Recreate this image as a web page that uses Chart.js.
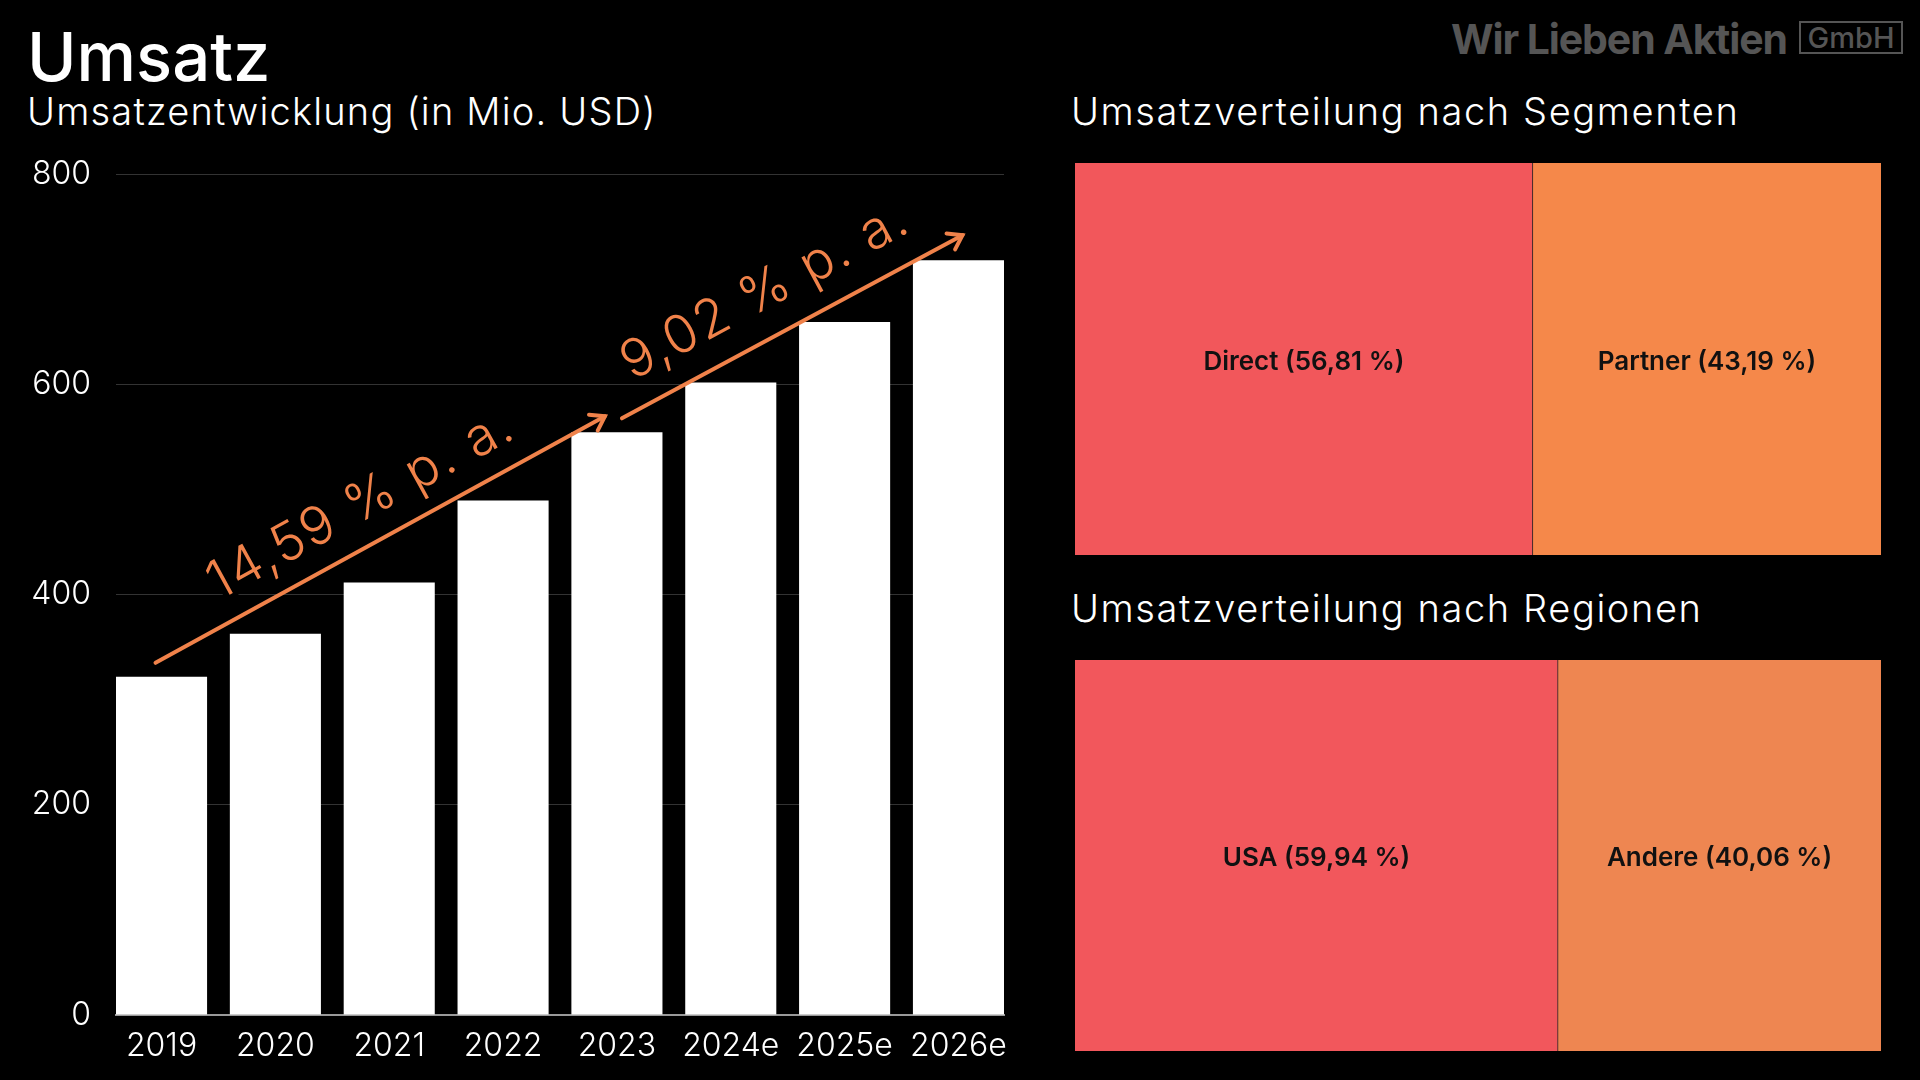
<!DOCTYPE html>
<html lang="de">
<head>
<meta charset="utf-8">
<title>Umsatz</title>
<script src="https://cdn.jsdelivr.net/npm/chart.js@4.4.1/dist/chart.umd.min.js"></script>
<style>
  html, body { margin: 0; padding: 0; background: #000; }
  body { width: 1920px; height: 1080px; position: relative; overflow: hidden; font-family: Inter, "Noto Sans", sans-serif; color: #fff; }
  .abs { position: absolute; white-space: nowrap; line-height: 1; }
  #title { left: 27px; top: 23px; font-size: 67px; font-weight: 500; }
  #subtitle { left: 27px; top: 92px; font-size: 38px; font-weight: 300; letter-spacing: 1.2px; }
  .heading { left: 1071px; font-size: 38px; font-weight: 300; letter-spacing: 1.6px; }
  #logo { left: 1451px; top: 19px; font-size: 41px; font-weight: 700; color: #555; letter-spacing: -1.1px; }
  #gmbh { left: 1799px; top: 21px; width: 100px; height: 29px; border: 2px solid #555; color: #555; font-size: 29px; font-weight: 500; text-align: center; line-height: 29px; }
  canvas { position: absolute; }
</style>
</head>
<body>
<div id="title" class="abs">Umsatz</div>
<div id="subtitle" class="abs">Umsatzentwicklung (in Mio. USD)</div>
<div class="abs heading" style="top: 92px;">Umsatzverteilung nach Segmenten</div>
<div class="abs heading" style="top: 589px;">Umsatzverteilung nach Regionen</div>
<div id="logo" class="abs">Wir Lieben Aktien</div>
<div id="gmbh" class="abs">GmbH</div>

<canvas id="revenue-chart" width="1040" height="1080" style="left: 0; top: 0;"></canvas>
<canvas id="segment-chart" width="806" height="392" style="left: 1075px; top: 163px;"></canvas>
<canvas id="region-chart" width="806" height="391" style="left: 1075px; top: 660px;"></canvas>

<script>
// Umsatz in Mio. USD
const years = ['2019', '2020', '2021', '2022', '2023', '2024e', '2025e', '2026e'];
const revenue = [321.7, 362.7, 411.3, 489.3, 554.3, 601.7, 659.3, 718.0];
const yTicks = [0, 200, 400, 600, 800];

// CAGR arrows: from bar index to bar index
const cagrFrom = [0, 4];
const cagrTo = [4, 7];
const cagrLabels = ['14,59 % p. a.', '9,02 % p. a.'];

const segmentNames = ['Direct', 'Partner'];
const segmentShares = [56.81, 43.19];
const regionNames = ['USA', 'Andere'];
const regionShares = [59.94, 40.06];

const orange = '#F0824A';

Chart.defaults.font.family = 'Inter, "Noto Sans", sans-serif';
Chart.defaults.color = '#fff';

const cagrPlugin = {
    id: 'cagrArrows',
    afterDatasetsDraw(chart) {
        const { ctx, scales: { x, y } } = chart;
        ctx.save();
        cagrFrom.forEach((i0, k) => {
            const i1 = cagrTo[k];
            const x1 = x.getPixelForValue(i0) - 6 + (k > 0 ? 11 : 0);
            const y1 = y.getPixelForValue(revenue[i0]) - 14;
            const x2 = x.getPixelForValue(i1) - 12 + (k > 0 ? 16 : 0);
            const y2 = y.getPixelForValue(revenue[i1]) - (k > 0 ? 25 : 16);
            const ang = Math.atan2(y2 - y1, x2 - x1);

            // label, with black halo so the grid stops behind it
            const off = 40;
            const mx = (x1 + x2) / 2 + off * Math.sin(ang) - (k > 0 ? 8 : 0);
            const my = (y1 + y2) / 2 - off * Math.cos(ang);
            ctx.save();
            ctx.translate(mx, my);
            ctx.rotate(ang);
            ctx.font = '300 53px Inter, "Noto Sans", sans-serif';
            ctx.letterSpacing = '2px';
            ctx.textAlign = 'center';
            ctx.textBaseline = 'middle';
            ctx.lineJoin = 'round';
            ctx.lineWidth = 12;
            ctx.strokeStyle = '#000';
            ctx.strokeText(cagrLabels[k], 0, 0);
            ctx.fillStyle = orange;
            ctx.fillText(cagrLabels[k], 0, 0);
            ctx.restore();

            // arrow
            ctx.strokeStyle = orange;
            ctx.lineWidth = 4;
            ctx.lineCap = 'round';
            ctx.beginPath();
            ctx.moveTo(x1, y1);
            ctx.lineTo(x2, y2);
            ctx.stroke();
            const h = 16;
            ctx.beginPath();
            ctx.moveTo(x2 - h * Math.cos(ang - 0.6), y2 - h * Math.sin(ang - 0.6));
            ctx.lineTo(x2, y2);
            ctx.lineTo(x2 - h * Math.cos(ang + 0.6), y2 - h * Math.sin(ang + 0.6));
            ctx.stroke();
        });
        ctx.restore();
    }
};

new Chart(document.getElementById('revenue-chart'), {
    type: 'bar',
    data: {
        datasets: [{
            data: years.map((_, i) => ({ x: i, y: revenue[i] })),
            backgroundColor: '#fff',
            barPercentage: 0.8,
            categoryPercentage: 1
        }]
    },
    options: {
        responsive: false,
        animation: false,
        layout: { padding: { top: 174, right: 36, left: 0, bottom: 0 } },
        scales: {
            x: {
                type: 'linear',
                offset: false,
                min: -0.4,
                max: 7.4,
                afterBuildTicks: axis => { axis.ticks = years.map((_, i) => ({ value: i })); },
                afterFit: axis => { axis.height = 65; },
                grid: { display: false },
                border: { display: true, color: '#999', width: 2 },
                ticks: {
                    callback: v => years[v],
                    font: { size: 32, weight: 300 },
                    padding: 4,
                    maxRotation: 0,
                    autoSkip: false
                }
            },
            y: {
                min: 0,
                max: 800,
                afterBuildTicks: axis => { axis.ticks = yTicks.map(v => ({ value: v })); },
                afterFit: axis => { axis.width = 116; },
                grid: { color: '#333', lineWidth: 1, drawTicks: false },
                border: { display: false },
                ticks: { font: { size: 32, weight: 300 }, padding: 25 }
            }
        },
        plugins: { legend: { display: false }, tooltip: { enabled: false } }
    },
    plugins: [cagrPlugin]
});

// labels in the middle of each treemap tile
const tileLabels = {
    id: 'tileLabels',
    afterDatasetsDraw(chart) {
        const { ctx } = chart;
        ctx.save();
        ctx.font = '600 26px Inter, "Noto Sans", sans-serif';
        ctx.fillStyle = '#111';
        ctx.textAlign = 'center';
        ctx.textBaseline = 'middle';
        chart.data.datasets.forEach((ds, i) => {
            const bar = chart.getDatasetMeta(i).data[0];
            const share = ds.data[0].toFixed(2).replace('.', ',');
            ctx.fillText(`${ds.label} (${share} %)`, (bar.x + bar.base) / 2, bar.y + 3);
        });
        ctx.restore();
    }
};

function drawTreemap(id, names, shares, colors) {
    new Chart(document.getElementById(id), {
        type: 'bar',
        data: {
            labels: [''],
            datasets: names.map((name, i) => ({
                label: name,
                data: [shares[i]],
                backgroundColor: colors[i],
                borderColor: '#222',
                borderWidth: i === 0 ? { right: 1 } : 0,
                borderSkipped: false,
                barPercentage: 1,
                categoryPercentage: 1
            }))
        },
        options: {
            indexAxis: 'y',
            responsive: false,
            animation: false,
            layout: { padding: 0 },
            scales: {
                x: { stacked: true, min: 0, max: 100, display: false },
                y: { stacked: true, display: false }
            },
            plugins: { legend: { display: false }, tooltip: { enabled: false } }
        },
        plugins: [tileLabels]
    });
}

drawTreemap('segment-chart', segmentNames, segmentShares, ['#F2575B', '#F5884A']);
drawTreemap('region-chart', regionNames, regionShares, ['#F2575C', '#EE8651']);
</script>
</body>
</html>
